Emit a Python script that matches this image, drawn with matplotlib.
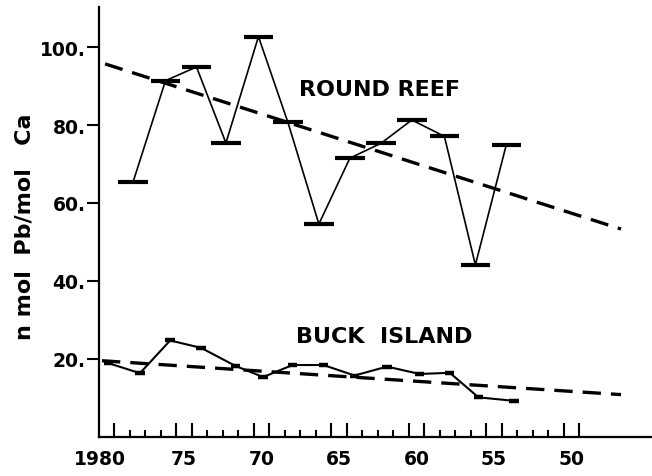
import numpy as np
import matplotlib
matplotlib.use("Agg")
import matplotlib.pyplot as plt

# ---- data ----
round_years = [1978.3, 1976.2, 1974.2, 1972.3, 1970.2, 1968.3, 1966.3,
               1964.3, 1962.3, 1960.3, 1958.2, 1956.2, 1954.2]
round_values = [65.3, 91.4, 94.9, 75.4, 102.7, 80.7, 54.6,
                71.5, 75.3, 81.3, 77.1, 44.1, 75.0]

buck_years = [1979.9, 1977.85, 1975.9, 1973.9, 1971.7, 1969.9, 1968.0,
              1966.0, 1964.0, 1961.9, 1959.8, 1957.85, 1956.0, 1953.7]
buck_values = [18.9, 16.3, 24.7, 22.8, 18.2, 15.3, 18.4,
               18.4, 15.7, 18.0, 16.1, 16.4, 10.1, 9.2]

round_trend_years = [1980.1, 1946.8]
round_trend_values = [95.7, 53.3]
buck_trend_years = [1980.3, 1946.8]
buck_trend_values = [19.5, 10.8]

xtick_years = [1980, 1975, 1970, 1965, 1960, 1955, 1950]
xtick_labels = ["1980", "75", "70", "65", "60", "55", "50"]
ytick_values = [20, 40, 60, 80, 100]
ytick_labels = ["20.", "40.", "60.", "80.", "100."]

# ---- figure ----
FONT = "DejaVu Sans"
plt.rcParams["font.family"] = [FONT]
plt.rcParams["font.weight"] = "bold"

fig = plt.figure(figsize=(6.52, 4.77), dpi=100)
ax = fig.add_axes([0.1526, 0.0824, 0.8474, 0.9008])

ax.set_xlim(1980.46, 1944.8)
ax.set_ylim(0, 110.3)

# Round Reef
ax.plot(round_years, round_values, color="black", lw=1.2, zorder=3)
ax.hlines(round_values, np.array(round_years) - 0.95, np.array(round_years) + 0.95,
          color="black", lw=3.0, zorder=4)
ax.plot(round_trend_years, round_trend_values, color="black", lw=2.4,
        linestyle=(0, (5.5, 3.0)), zorder=2)

# Buck Island
ax.plot(buck_years, buck_values, color="black", lw=1.5, zorder=3)
ax.hlines(buck_values, np.array(buck_years) - 0.3, np.array(buck_years) + 0.3,
          color="black", lw=3.2, zorder=4)
ax.plot(buck_trend_years, buck_trend_values, color="black", lw=2.4,
        linestyle=(0, (5.5, 3.0)), zorder=2)

ax.text(1962.4, 89.3, "ROUND REEF", ha="center", va="center",
        fontsize=16, fontweight="bold")
ax.text(1962.1, 25.9, "BUCK  ISLAND", ha="center", va="center",
        fontsize=16, fontweight="bold")

# spines
for s in ["top", "right"]:
    ax.spines[s].set_visible(False)
for s in ["left", "bottom"]:
    ax.spines[s].set_linewidth(1.6)

# y axis
ax.set_yticks(ytick_values)
ax.set_yticklabels(ytick_labels, fontsize=13.5, fontweight="bold")
ax.tick_params(axis="y", direction="out", length=9, width=1.5, pad=1)
ax.set_ylabel("n mol  Pb/mol   Ca", fontsize=16, fontweight="bold", labelpad=3)
ax.yaxis.set_label_coords(-0.118, 0.49)

# x axis: tick marks at half years, tall pairs around every fifth year
half_years = np.arange(1949.5, 1980.0, 1.0)
tall = [h for h in half_years if any(abs(abs(h - y) - 0.5) < 1e-6 for y in xtick_years)]
small = [h for h in half_years if h not in tall]
ax.set_xticks(tall)
ax.set_xticklabels([])
ax.set_xticks(small, minor=True)
ax.tick_params(axis="x", which="major", direction="in", length=10, width=1.5)
ax.tick_params(axis="x", which="minor", direction="in", length=5, width=1.5)

label_pos = [1980.4] + xtick_years[1:]
sec = ax.secondary_xaxis("bottom")
sec.spines["bottom"].set_visible(False)
sec.set_xticks(label_pos)
sec.set_xticklabels(xtick_labels, fontsize=13.5, fontweight="bold")
sec.tick_params(axis="x", length=0, pad=9)
sec.minorticks_off()

fig.savefig("out.png", dpi=100)
